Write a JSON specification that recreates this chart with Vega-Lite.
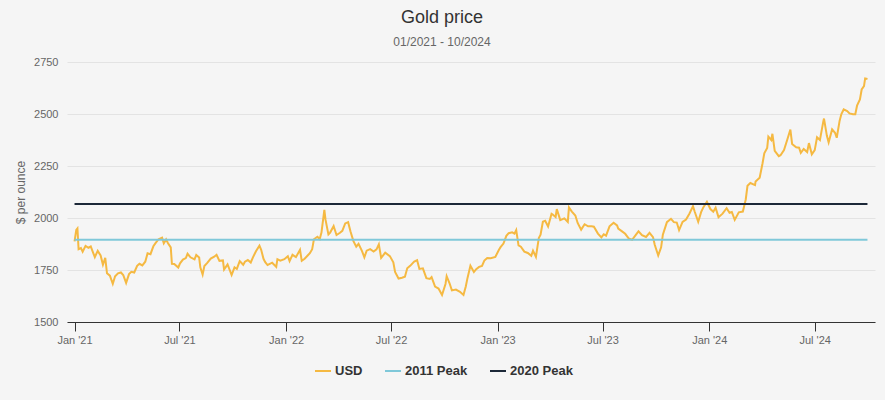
{
  "$schema": "https://vega.github.io/schema/vega-lite/v6.json",
  "width": 808,
  "height": 260,
  "autosize": "none",
  "padding": {"left": 67, "top": 62, "right": 10, "bottom": 78},
  "background": "#f5f5f5",
  "config": {
    "view": {"stroke": null},
    "font": "Liberation Sans"
  },
  "title": {
    "text": "Gold price",
    "subtitle": "01/2021 - 10/2024",
    "fontSize": 18,
    "fontWeight": "normal",
    "color": "#333333",
    "subtitleFontSize": 12,
    "subtitleColor": "#666666",
    "subtitlePadding": 10,
    "anchor": "middle",
    "dx": -29,
    "offset": 8
  },
  "data": {
    "values": [
      {"d": "2021-01-01", "v": 1888, "s": "USD"},
      {"d": "2021-01-04", "v": 1943, "s": "USD"},
      {"d": "2021-01-06", "v": 1950, "s": "USD"},
      {"d": "2021-01-08", "v": 1850, "s": "USD"},
      {"d": "2021-01-12", "v": 1855, "s": "USD"},
      {"d": "2021-01-15", "v": 1838, "s": "USD"},
      {"d": "2021-01-20", "v": 1866, "s": "USD"},
      {"d": "2021-01-25", "v": 1857, "s": "USD"},
      {"d": "2021-01-29", "v": 1863, "s": "USD"},
      {"d": "2021-02-02", "v": 1834, "s": "USD"},
      {"d": "2021-02-05", "v": 1812, "s": "USD"},
      {"d": "2021-02-10", "v": 1842, "s": "USD"},
      {"d": "2021-02-15", "v": 1820, "s": "USD"},
      {"d": "2021-02-19", "v": 1775, "s": "USD"},
      {"d": "2021-02-23", "v": 1808, "s": "USD"},
      {"d": "2021-02-26", "v": 1734, "s": "USD"},
      {"d": "2021-03-03", "v": 1723, "s": "USD"},
      {"d": "2021-03-08", "v": 1684, "s": "USD"},
      {"d": "2021-03-12", "v": 1720, "s": "USD"},
      {"d": "2021-03-17", "v": 1734, "s": "USD"},
      {"d": "2021-03-22", "v": 1738, "s": "USD"},
      {"d": "2021-03-26", "v": 1726, "s": "USD"},
      {"d": "2021-03-31", "v": 1688, "s": "USD"},
      {"d": "2021-04-05", "v": 1730, "s": "USD"},
      {"d": "2021-04-09", "v": 1741, "s": "USD"},
      {"d": "2021-04-14", "v": 1738, "s": "USD"},
      {"d": "2021-04-19", "v": 1770, "s": "USD"},
      {"d": "2021-04-23", "v": 1780, "s": "USD"},
      {"d": "2021-04-28", "v": 1772, "s": "USD"},
      {"d": "2021-05-03", "v": 1790, "s": "USD"},
      {"d": "2021-05-07", "v": 1830, "s": "USD"},
      {"d": "2021-05-12", "v": 1826, "s": "USD"},
      {"d": "2021-05-17", "v": 1864, "s": "USD"},
      {"d": "2021-05-21", "v": 1880, "s": "USD"},
      {"d": "2021-05-26", "v": 1898, "s": "USD"},
      {"d": "2021-06-01", "v": 1906, "s": "USD"},
      {"d": "2021-06-04", "v": 1878, "s": "USD"},
      {"d": "2021-06-08", "v": 1897, "s": "USD"},
      {"d": "2021-06-11", "v": 1880, "s": "USD"},
      {"d": "2021-06-16", "v": 1859, "s": "USD"},
      {"d": "2021-06-18", "v": 1780, "s": "USD"},
      {"d": "2021-06-22", "v": 1779, "s": "USD"},
      {"d": "2021-06-29", "v": 1762, "s": "USD"},
      {"d": "2021-07-02", "v": 1782, "s": "USD"},
      {"d": "2021-07-07", "v": 1800, "s": "USD"},
      {"d": "2021-07-12", "v": 1807, "s": "USD"},
      {"d": "2021-07-15", "v": 1828, "s": "USD"},
      {"d": "2021-07-20", "v": 1811, "s": "USD"},
      {"d": "2021-07-27", "v": 1801, "s": "USD"},
      {"d": "2021-07-30", "v": 1822, "s": "USD"},
      {"d": "2021-08-04", "v": 1810, "s": "USD"},
      {"d": "2021-08-06", "v": 1763, "s": "USD"},
      {"d": "2021-08-10", "v": 1728, "s": "USD"},
      {"d": "2021-08-13", "v": 1769, "s": "USD"},
      {"d": "2021-08-18", "v": 1784, "s": "USD"},
      {"d": "2021-08-24", "v": 1805, "s": "USD"},
      {"d": "2021-08-30", "v": 1814, "s": "USD"},
      {"d": "2021-09-03", "v": 1823, "s": "USD"},
      {"d": "2021-09-08", "v": 1794, "s": "USD"},
      {"d": "2021-09-14", "v": 1796, "s": "USD"},
      {"d": "2021-09-16", "v": 1752, "s": "USD"},
      {"d": "2021-09-22", "v": 1777, "s": "USD"},
      {"d": "2021-09-29", "v": 1726, "s": "USD"},
      {"d": "2021-10-04", "v": 1763, "s": "USD"},
      {"d": "2021-10-08", "v": 1755, "s": "USD"},
      {"d": "2021-10-13", "v": 1793, "s": "USD"},
      {"d": "2021-10-19", "v": 1775, "s": "USD"},
      {"d": "2021-10-22", "v": 1790, "s": "USD"},
      {"d": "2021-10-27", "v": 1798, "s": "USD"},
      {"d": "2021-11-01", "v": 1786, "s": "USD"},
      {"d": "2021-11-05", "v": 1812, "s": "USD"},
      {"d": "2021-11-10", "v": 1840, "s": "USD"},
      {"d": "2021-11-16", "v": 1867, "s": "USD"},
      {"d": "2021-11-19", "v": 1847, "s": "USD"},
      {"d": "2021-11-23", "v": 1804, "s": "USD"},
      {"d": "2021-11-26", "v": 1788, "s": "USD"},
      {"d": "2021-11-30", "v": 1774, "s": "USD"},
      {"d": "2021-12-03", "v": 1778, "s": "USD"},
      {"d": "2021-12-08", "v": 1785, "s": "USD"},
      {"d": "2021-12-15", "v": 1765, "s": "USD"},
      {"d": "2021-12-17", "v": 1802, "s": "USD"},
      {"d": "2021-12-22", "v": 1795, "s": "USD"},
      {"d": "2021-12-29", "v": 1802, "s": "USD"},
      {"d": "2022-01-04", "v": 1816, "s": "USD"},
      {"d": "2022-01-07", "v": 1793, "s": "USD"},
      {"d": "2022-01-12", "v": 1823, "s": "USD"},
      {"d": "2022-01-18", "v": 1812, "s": "USD"},
      {"d": "2022-01-25", "v": 1847, "s": "USD"},
      {"d": "2022-01-28", "v": 1794, "s": "USD"},
      {"d": "2022-02-02", "v": 1804, "s": "USD"},
      {"d": "2022-02-08", "v": 1822, "s": "USD"},
      {"d": "2022-02-11", "v": 1831, "s": "USD"},
      {"d": "2022-02-15", "v": 1850, "s": "USD"},
      {"d": "2022-02-18", "v": 1898, "s": "USD"},
      {"d": "2022-02-24", "v": 1910, "s": "USD"},
      {"d": "2022-02-28", "v": 1899, "s": "USD"},
      {"d": "2022-03-03", "v": 1930, "s": "USD"},
      {"d": "2022-03-08", "v": 2039, "s": "USD"},
      {"d": "2022-03-10", "v": 1992, "s": "USD"},
      {"d": "2022-03-15", "v": 1921, "s": "USD"},
      {"d": "2022-03-18", "v": 1930, "s": "USD"},
      {"d": "2022-03-24", "v": 1961, "s": "USD"},
      {"d": "2022-03-29", "v": 1918, "s": "USD"},
      {"d": "2022-04-04", "v": 1929, "s": "USD"},
      {"d": "2022-04-08", "v": 1938, "s": "USD"},
      {"d": "2022-04-13", "v": 1974, "s": "USD"},
      {"d": "2022-04-18", "v": 1980, "s": "USD"},
      {"d": "2022-04-22", "v": 1936, "s": "USD"},
      {"d": "2022-04-27", "v": 1890, "s": "USD"},
      {"d": "2022-05-02", "v": 1862, "s": "USD"},
      {"d": "2022-05-06", "v": 1876, "s": "USD"},
      {"d": "2022-05-12", "v": 1841, "s": "USD"},
      {"d": "2022-05-16", "v": 1811, "s": "USD"},
      {"d": "2022-05-20", "v": 1843, "s": "USD"},
      {"d": "2022-05-26", "v": 1850, "s": "USD"},
      {"d": "2022-06-01", "v": 1839, "s": "USD"},
      {"d": "2022-06-06", "v": 1849, "s": "USD"},
      {"d": "2022-06-10", "v": 1873, "s": "USD"},
      {"d": "2022-06-14", "v": 1808, "s": "USD"},
      {"d": "2022-06-21", "v": 1833, "s": "USD"},
      {"d": "2022-06-29", "v": 1817, "s": "USD"},
      {"d": "2022-07-05", "v": 1787, "s": "USD"},
      {"d": "2022-07-08", "v": 1741, "s": "USD"},
      {"d": "2022-07-14", "v": 1709, "s": "USD"},
      {"d": "2022-07-20", "v": 1713, "s": "USD"},
      {"d": "2022-07-25", "v": 1718, "s": "USD"},
      {"d": "2022-07-29", "v": 1758, "s": "USD"},
      {"d": "2022-08-03", "v": 1770, "s": "USD"},
      {"d": "2022-08-10", "v": 1791, "s": "USD"},
      {"d": "2022-08-15", "v": 1797, "s": "USD"},
      {"d": "2022-08-19", "v": 1755, "s": "USD"},
      {"d": "2022-08-25", "v": 1758, "s": "USD"},
      {"d": "2022-08-31", "v": 1711, "s": "USD"},
      {"d": "2022-09-06", "v": 1707, "s": "USD"},
      {"d": "2022-09-09", "v": 1716, "s": "USD"},
      {"d": "2022-09-15", "v": 1670, "s": "USD"},
      {"d": "2022-09-21", "v": 1661, "s": "USD"},
      {"d": "2022-09-27", "v": 1630, "s": "USD"},
      {"d": "2022-10-03", "v": 1683, "s": "USD"},
      {"d": "2022-10-05", "v": 1720, "s": "USD"},
      {"d": "2022-10-10", "v": 1686, "s": "USD"},
      {"d": "2022-10-14", "v": 1652, "s": "USD"},
      {"d": "2022-10-21", "v": 1656, "s": "USD"},
      {"d": "2022-10-28", "v": 1645, "s": "USD"},
      {"d": "2022-11-03", "v": 1630, "s": "USD"},
      {"d": "2022-11-07", "v": 1671, "s": "USD"},
      {"d": "2022-11-10", "v": 1712, "s": "USD"},
      {"d": "2022-11-15", "v": 1770, "s": "USD"},
      {"d": "2022-11-21", "v": 1740, "s": "USD"},
      {"d": "2022-11-25", "v": 1754, "s": "USD"},
      {"d": "2022-11-30", "v": 1765, "s": "USD"},
      {"d": "2022-12-05", "v": 1770, "s": "USD"},
      {"d": "2022-12-09", "v": 1795, "s": "USD"},
      {"d": "2022-12-14", "v": 1808, "s": "USD"},
      {"d": "2022-12-20", "v": 1807, "s": "USD"},
      {"d": "2022-12-28", "v": 1813, "s": "USD"},
      {"d": "2023-01-03", "v": 1846, "s": "USD"},
      {"d": "2023-01-06", "v": 1860, "s": "USD"},
      {"d": "2023-01-11", "v": 1877, "s": "USD"},
      {"d": "2023-01-16", "v": 1914, "s": "USD"},
      {"d": "2023-01-20", "v": 1927, "s": "USD"},
      {"d": "2023-01-26", "v": 1931, "s": "USD"},
      {"d": "2023-01-30", "v": 1925, "s": "USD"},
      {"d": "2023-02-02", "v": 1942, "s": "USD"},
      {"d": "2023-02-06", "v": 1868, "s": "USD"},
      {"d": "2023-02-10", "v": 1862, "s": "USD"},
      {"d": "2023-02-16", "v": 1838, "s": "USD"},
      {"d": "2023-02-22", "v": 1832, "s": "USD"},
      {"d": "2023-02-28", "v": 1818, "s": "USD"},
      {"d": "2023-03-03", "v": 1843, "s": "USD"},
      {"d": "2023-03-08", "v": 1813, "s": "USD"},
      {"d": "2023-03-13", "v": 1904, "s": "USD"},
      {"d": "2023-03-16", "v": 1920, "s": "USD"},
      {"d": "2023-03-20", "v": 1982, "s": "USD"},
      {"d": "2023-03-24", "v": 1987, "s": "USD"},
      {"d": "2023-03-29", "v": 1959, "s": "USD"},
      {"d": "2023-04-04", "v": 2020, "s": "USD"},
      {"d": "2023-04-06", "v": 2017, "s": "USD"},
      {"d": "2023-04-11", "v": 2005, "s": "USD"},
      {"d": "2023-04-13", "v": 2043, "s": "USD"},
      {"d": "2023-04-19", "v": 1990, "s": "USD"},
      {"d": "2023-04-26", "v": 1998, "s": "USD"},
      {"d": "2023-05-02", "v": 1981, "s": "USD"},
      {"d": "2023-05-04", "v": 2051, "s": "USD"},
      {"d": "2023-05-09", "v": 2031, "s": "USD"},
      {"d": "2023-05-15", "v": 2012, "s": "USD"},
      {"d": "2023-05-19", "v": 1976, "s": "USD"},
      {"d": "2023-05-25", "v": 1944, "s": "USD"},
      {"d": "2023-05-31", "v": 1970, "s": "USD"},
      {"d": "2023-06-06", "v": 1960, "s": "USD"},
      {"d": "2023-06-12", "v": 1960, "s": "USD"},
      {"d": "2023-06-16", "v": 1958, "s": "USD"},
      {"d": "2023-06-23", "v": 1925, "s": "USD"},
      {"d": "2023-06-29", "v": 1907, "s": "USD"},
      {"d": "2023-07-03", "v": 1922, "s": "USD"},
      {"d": "2023-07-07", "v": 1915, "s": "USD"},
      {"d": "2023-07-13", "v": 1960, "s": "USD"},
      {"d": "2023-07-20", "v": 1977, "s": "USD"},
      {"d": "2023-07-26", "v": 1964, "s": "USD"},
      {"d": "2023-07-28", "v": 1949, "s": "USD"},
      {"d": "2023-08-03", "v": 1937, "s": "USD"},
      {"d": "2023-08-09", "v": 1924, "s": "USD"},
      {"d": "2023-08-15", "v": 1902, "s": "USD"},
      {"d": "2023-08-21", "v": 1895, "s": "USD"},
      {"d": "2023-08-28", "v": 1921, "s": "USD"},
      {"d": "2023-09-01", "v": 1936, "s": "USD"},
      {"d": "2023-09-07", "v": 1918, "s": "USD"},
      {"d": "2023-09-14", "v": 1909, "s": "USD"},
      {"d": "2023-09-20", "v": 1929, "s": "USD"},
      {"d": "2023-09-26", "v": 1908, "s": "USD"},
      {"d": "2023-09-29", "v": 1871, "s": "USD"},
      {"d": "2023-10-05", "v": 1820, "s": "USD"},
      {"d": "2023-10-10", "v": 1859, "s": "USD"},
      {"d": "2023-10-13", "v": 1920, "s": "USD"},
      {"d": "2023-10-20", "v": 1980, "s": "USD"},
      {"d": "2023-10-27", "v": 1996, "s": "USD"},
      {"d": "2023-11-01", "v": 1980, "s": "USD"},
      {"d": "2023-11-06", "v": 1978, "s": "USD"},
      {"d": "2023-11-10", "v": 1942, "s": "USD"},
      {"d": "2023-11-16", "v": 1981, "s": "USD"},
      {"d": "2023-11-22", "v": 1993, "s": "USD"},
      {"d": "2023-11-28", "v": 2022, "s": "USD"},
      {"d": "2023-12-04", "v": 2057, "s": "USD"},
      {"d": "2023-12-07", "v": 2030, "s": "USD"},
      {"d": "2023-12-13", "v": 1982, "s": "USD"},
      {"d": "2023-12-18", "v": 2028, "s": "USD"},
      {"d": "2023-12-22", "v": 2052, "s": "USD"},
      {"d": "2023-12-28", "v": 2078, "s": "USD"},
      {"d": "2024-01-03", "v": 2043, "s": "USD"},
      {"d": "2024-01-08", "v": 2030, "s": "USD"},
      {"d": "2024-01-12", "v": 2049, "s": "USD"},
      {"d": "2024-01-17", "v": 2004, "s": "USD"},
      {"d": "2024-01-24", "v": 2021, "s": "USD"},
      {"d": "2024-01-31", "v": 2047, "s": "USD"},
      {"d": "2024-02-05", "v": 2025, "s": "USD"},
      {"d": "2024-02-09", "v": 2029, "s": "USD"},
      {"d": "2024-02-14", "v": 1991, "s": "USD"},
      {"d": "2024-02-21", "v": 2027, "s": "USD"},
      {"d": "2024-02-28", "v": 2031, "s": "USD"},
      {"d": "2024-03-04", "v": 2089, "s": "USD"},
      {"d": "2024-03-07", "v": 2155, "s": "USD"},
      {"d": "2024-03-12", "v": 2168, "s": "USD"},
      {"d": "2024-03-20", "v": 2158, "s": "USD"},
      {"d": "2024-03-21", "v": 2176, "s": "USD"},
      {"d": "2024-03-28", "v": 2194, "s": "USD"},
      {"d": "2024-04-02", "v": 2263, "s": "USD"},
      {"d": "2024-04-05", "v": 2311, "s": "USD"},
      {"d": "2024-04-10", "v": 2337, "s": "USD"},
      {"d": "2024-04-12", "v": 2391, "s": "USD"},
      {"d": "2024-04-17", "v": 2375, "s": "USD"},
      {"d": "2024-04-19", "v": 2405, "s": "USD"},
      {"d": "2024-04-23", "v": 2323, "s": "USD"},
      {"d": "2024-04-30", "v": 2297, "s": "USD"},
      {"d": "2024-05-03", "v": 2302, "s": "USD"},
      {"d": "2024-05-09", "v": 2327, "s": "USD"},
      {"d": "2024-05-15", "v": 2380, "s": "USD"},
      {"d": "2024-05-20", "v": 2425, "s": "USD"},
      {"d": "2024-05-23", "v": 2356, "s": "USD"},
      {"d": "2024-05-30", "v": 2340, "s": "USD"},
      {"d": "2024-06-04", "v": 2338, "s": "USD"},
      {"d": "2024-06-07", "v": 2313, "s": "USD"},
      {"d": "2024-06-12", "v": 2332, "s": "USD"},
      {"d": "2024-06-18", "v": 2317, "s": "USD"},
      {"d": "2024-06-21", "v": 2360, "s": "USD"},
      {"d": "2024-06-26", "v": 2306, "s": "USD"},
      {"d": "2024-07-01", "v": 2326, "s": "USD"},
      {"d": "2024-07-05", "v": 2388, "s": "USD"},
      {"d": "2024-07-10", "v": 2375, "s": "USD"},
      {"d": "2024-07-16", "v": 2467, "s": "USD"},
      {"d": "2024-07-17", "v": 2478, "s": "USD"},
      {"d": "2024-07-22", "v": 2395, "s": "USD"},
      {"d": "2024-07-25", "v": 2364, "s": "USD"},
      {"d": "2024-07-31", "v": 2426, "s": "USD"},
      {"d": "2024-08-05", "v": 2410, "s": "USD"},
      {"d": "2024-08-08", "v": 2386, "s": "USD"},
      {"d": "2024-08-13", "v": 2468, "s": "USD"},
      {"d": "2024-08-16", "v": 2500, "s": "USD"},
      {"d": "2024-08-20", "v": 2522, "s": "USD"},
      {"d": "2024-08-26", "v": 2514, "s": "USD"},
      {"d": "2024-08-30", "v": 2503, "s": "USD"},
      {"d": "2024-09-05", "v": 2499, "s": "USD"},
      {"d": "2024-09-09", "v": 2499, "s": "USD"},
      {"d": "2024-09-12", "v": 2540, "s": "USD"},
      {"d": "2024-09-17", "v": 2570, "s": "USD"},
      {"d": "2024-09-20", "v": 2618, "s": "USD"},
      {"d": "2024-09-24", "v": 2634, "s": "USD"},
      {"d": "2024-09-26", "v": 2671, "s": "USD"},
      {"d": "2024-09-30", "v": 2668, "s": "USD"},
      {"d": "2021-01-01", "v": 1895, "s": "2011 Peak"},
      {"d": "2024-09-30", "v": 1895, "s": "2011 Peak"},
      {"d": "2021-01-01", "v": 2067, "s": "2020 Peak"},
      {"d": "2024-09-30", "v": 2067, "s": "2020 Peak"}
    ]
  },
  "mark": {"type": "line", "strokeWidth": 2, "interpolate": "linear"},
  "encoding": {
    "x": {
      "field": "d",
      "type": "temporal",
      "scale": {"type": "utc", "domain": ["2020-12-19", "2024-10-13"]},
      "axis": {
        "title": null,
        "format": "%b '%y",
        "values": [
          {"year": 2021, "month": 1, "date": 1, "utc": true},
          {"year": 2021, "month": 7, "date": 1, "utc": true},
          {"year": 2022, "month": 1, "date": 1, "utc": true},
          {"year": 2022, "month": 7, "date": 1, "utc": true},
          {"year": 2023, "month": 1, "date": 1, "utc": true},
          {"year": 2023, "month": 7, "date": 1, "utc": true},
          {"year": 2024, "month": 1, "date": 1, "utc": true},
          {"year": 2024, "month": 7, "date": 1, "utc": true}
        ],
        "grid": false,
        "domainColor": "#333333",
        "domainWidth": 1,
        "tickColor": "#333333",
        "tickSize": 9,
        "labelColor": "#666666",
        "labelFontSize": 11,
        "labelPadding": 3,
        "labelFlush": false
      }
    },
    "y": {
      "field": "v",
      "type": "quantitative",
      "scale": {"domain": [1500, 2750], "nice": false, "zero": false},
      "axis": {
        "title": "$ per ounce",
        "titleFontWeight": "normal",
        "titleFontSize": 12,
        "titleColor": "#666666",
        "titlePadding": 6,
        "format": "d",
        "values": [1500, 1750, 2000, 2250, 2500, 2750],
        "domain": false,
        "ticks": false,
        "gridColor": "#e3e3e3",
        "labelColor": "#666666",
        "labelFontSize": 11,
        "labelPadding": 9
      }
    },
    "color": {
      "field": "s",
      "type": "nominal",
      "scale": {
        "domain": ["USD", "2011 Peak", "2020 Peak"],
        "range": ["#f5b942", "#7fc8d9", "#1c2838"]
      },
      "legend": {
        "title": null,
        "orient": "none",
        "direction": "horizontal",
        "legendX": 247,
        "legendY": 300,
        "symbolType": "stroke",
        "symbolSize": 256,
        "symbolStrokeWidth": 2,
        "labelFontWeight": "bold",
        "labelFontSize": 13,
        "labelColor": "#333333",
        "columnPadding": 18,
        "labelOffset": 3
      }
    }
  }
}
